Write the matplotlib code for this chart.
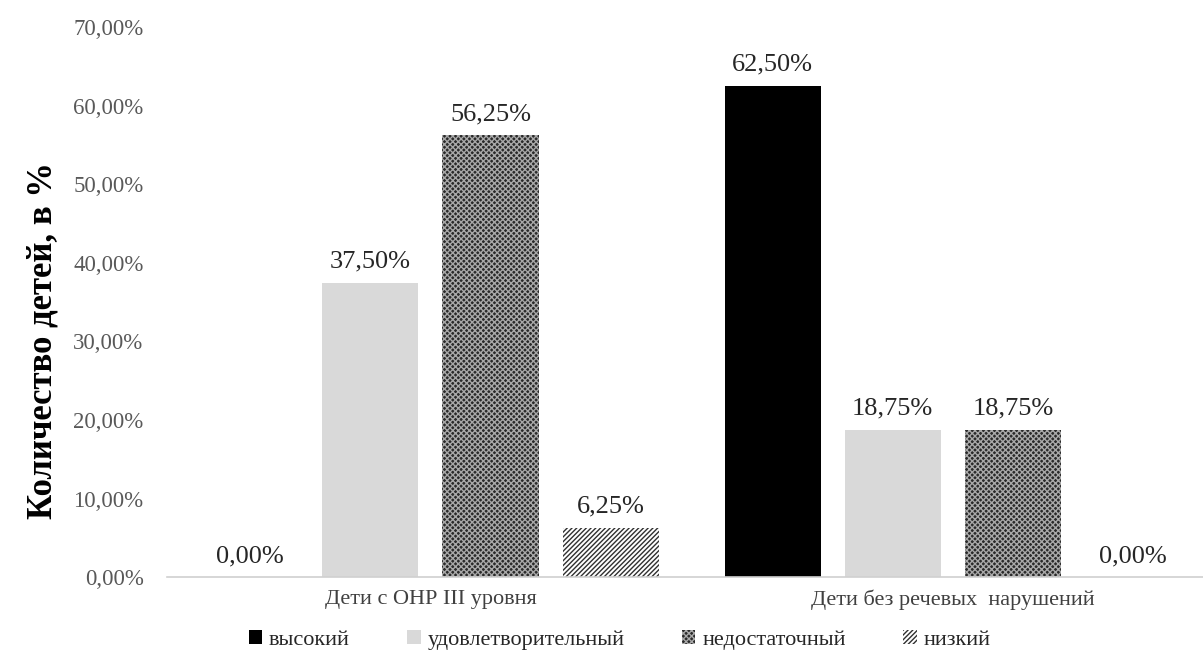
import numpy as np
import matplotlib
matplotlib.use("Agg")
import matplotlib.pyplot as plt

plt.rcParams['font.family'] = ['Liberation Serif', 'DejaVu Serif']

# data
groups = ["Дети с ОНР III уровня", "Дети без речевых  нарушений"]
levels = ["высокий", "удовлетворительный", "недостаточный", "низкий"]
values = {
    "высокий": [0.0, 62.5],
    "удовлетворительный": [37.5, 18.75],
    "недостаточный": [56.25, 18.75],
    "низкий": [6.25, 0.0],
}
y_ticks = [0, 10, 20, 30, 40, 50, 60, 70]

styles = {
    "высокий": dict(color="black", hatch=None, edgecolor="black"),
    "удовлетворительный": dict(color="#d9d9d9", hatch=None, edgecolor="#d9d9d9"),
    "недостаточный": dict(color="#2a2a2a", hatch="xxxxxx", edgecolor="#a8a8a8"),
    "низкий": dict(color="white", hatch="///////", edgecolor="#303030"),
}

plt.rcParams['hatch.linewidth'] = 1.0

fig = plt.figure(figsize=(12.03, 6.62), dpi=100)
ax = fig.add_axes([0.139, 0.128, 0.861, 0.831])

x = np.arange(len(groups))
pitch = 0.23
width = 0.184
for i, lev in enumerate(levels):
    st = styles[lev]
    pos = x + (i - 1.5) * pitch
    ax.bar(pos, values[lev], width, color=st["color"], hatch=st["hatch"],
           edgecolor=st["edgecolor"], linewidth=0, label=lev)
    for px, v in zip(pos, values[lev]):
        ax.text(px, v + 1.3, f"{v:.2f}%".replace(".", ","), ha="center", va="bottom",
                fontsize=19, color="#262626")

ax.set_xlim(-0.504, 1.479)
ax.set_ylim(0, 70)
ax.set_yticks(y_ticks)
ax.set_yticklabels([f"{t:.2f}%".replace(".", ",") for t in y_ticks], fontsize=16.5, color="#595959")
ax.set_xticks(x)
ax.set_xticklabels(groups, fontsize=16, color="#404040")
ax.tick_params(axis="y", length=0, pad=17)
ax.tick_params(axis="x", length=0, pad=9)
for s in ["top", "right", "left"]:
    ax.spines[s].set_visible(False)
ax.spines["bottom"].set_color("#d0d0d0")
ax.spines["bottom"].set_linewidth(1.2)

ax.set_ylabel("Количество детей, в %", fontsize=25, fontweight="bold")
ax.yaxis.set_label_coords(-0.104, 0.43)

leg = fig.legend(loc="lower center", bbox_to_anchor=(0.515, -0.012), ncol=4, frameon=False,
                 fontsize=16, handlelength=0.6, handleheight=0.6, handletextpad=0.3,
                 columnspacing=2.6)
for t in leg.get_texts():
    t.set_color("#262626")

fig.savefig("out.png", dpi=100)
